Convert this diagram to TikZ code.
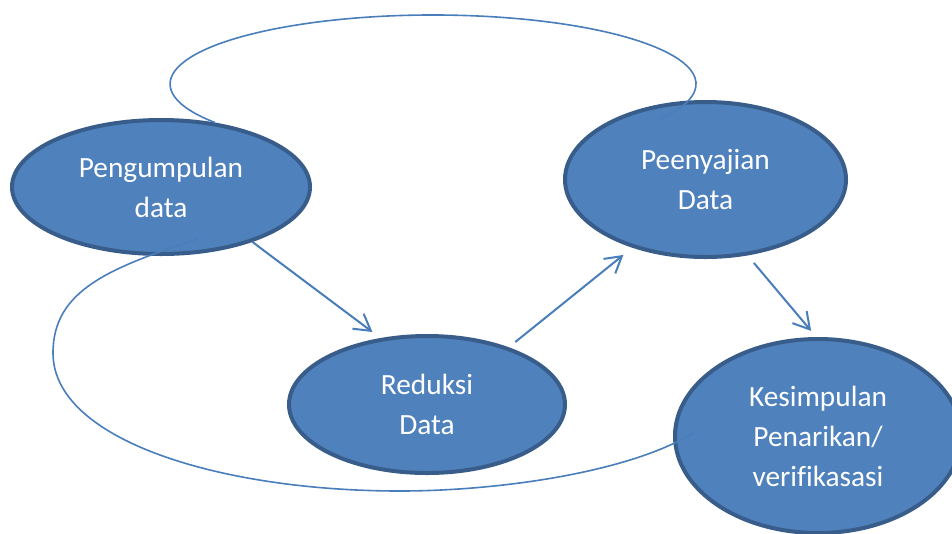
\documentclass[tikz,border=0pt]{standalone}
\usepackage{fontspec}
\setmainfont{Carlito}[Ligatures=NoCommon]
\usepackage{xcolor}
\usetikzlibrary{arrows.meta, shapes.geometric}
\definecolor{stagefill}{HTML}{4F81BD}
\definecolor{stageborder}{HTML}{385D8A}
\definecolor{linkblue}{HTML}{4A7EBB}

\begin{document}
\begin{tikzpicture}[
    x=0.75pt, y=-0.75pt,
    stage/.style={ellipse, draw=stageborder, line width=3pt, fill=stagefill, text=white, inner sep=0pt, align=center, font=\fontsize{22}{30}\selectfont},
    flow/.style={draw=linkblue, line width=1.5pt, -{Straight Barb[length=12pt, width=14pt]}},
    cycleline/.style={draw=linkblue, line width=1.2pt},
]
\useasboundingbox (0,0) rectangle (952,533);

\node[stage, minimum width=223.5pt, minimum height=100.5pt] (kumpul) at (161,187) {Pengumpulan\\data};
\node[stage, minimum width=207pt, minimum height=102.75pt] (reduksi) at (427,404.5) {Reduksi\\Data};
\node[stage, minimum width=210.75pt, minimum height=116.25pt] (sajian) at (705.5,179.5) {Peenyajian\\Data};
\node[stage, minimum width=214.5pt, minimum height=145.5pt] (simpul) at (818,436) {Kesimpulan\\Penarikan/\\verifikasasi};

\draw[flow, shorten >=7.5pt] (kumpul.-31) -- (reduksi.125);
\draw[flow, shorten <=6.3pt, shorten >=8.6pt] (reduksi.35) -- (sajian.223);
\draw[flow, shorten <=7.3pt, shorten >=6pt] (sajian.-61) -- (simpul.91);

\coordinate (low-start) at (197,239);
\coordinate (low-end) at (693,433);
\draw[cycleline] (kumpul.50) arc[start angle=146, end angle=391, x radius=263, y radius=69];
\draw[cycleline] (low-start) .. controls (110,268) and (53,290) .. (53,353)
    .. controls (53,440) and (220,491) .. (400,491)
    .. controls (500,491) and (630,472) .. (low-end);
\end{tikzpicture}
\end{document}
